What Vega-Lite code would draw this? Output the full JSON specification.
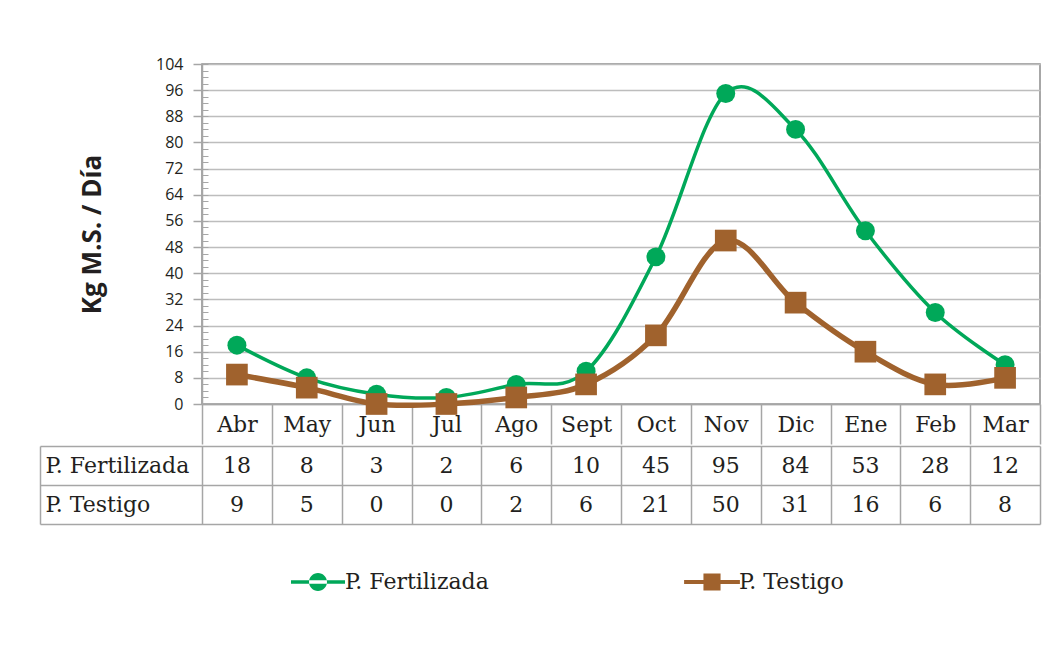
{
  "$schema": "https://vega.github.io/schema/vega-lite/v6.json",
  "padding": {"left": 39, "top": 55, "right": 10, "bottom": 10},
  "background": "white",
  "datasets": {
    "d": [
      {"month": "Abr", "series": "P. Fertilizada", "value": 18},
      {"month": "May", "series": "P. Fertilizada", "value": 8},
      {"month": "Jun", "series": "P. Fertilizada", "value": 3},
      {"month": "Jul", "series": "P. Fertilizada", "value": 2},
      {"month": "Ago", "series": "P. Fertilizada", "value": 6},
      {"month": "Sept", "series": "P. Fertilizada", "value": 10},
      {"month": "Oct", "series": "P. Fertilizada", "value": 45},
      {"month": "Nov", "series": "P. Fertilizada", "value": 95},
      {"month": "Dic", "series": "P. Fertilizada", "value": 84},
      {"month": "Ene", "series": "P. Fertilizada", "value": 53},
      {"month": "Feb", "series": "P. Fertilizada", "value": 28},
      {"month": "Mar", "series": "P. Fertilizada", "value": 12},
      {"month": "Abr", "series": "P. Testigo", "value": 9},
      {"month": "May", "series": "P. Testigo", "value": 5},
      {"month": "Jun", "series": "P. Testigo", "value": 0},
      {"month": "Jul", "series": "P. Testigo", "value": 0},
      {"month": "Ago", "series": "P. Testigo", "value": 2},
      {"month": "Sept", "series": "P. Testigo", "value": 6},
      {"month": "Oct", "series": "P. Testigo", "value": 21},
      {"month": "Nov", "series": "P. Testigo", "value": 50},
      {"month": "Dic", "series": "P. Testigo", "value": 31},
      {"month": "Ene", "series": "P. Testigo", "value": 16},
      {"month": "Feb", "series": "P. Testigo", "value": 6},
      {"month": "Mar", "series": "P. Testigo", "value": 8}
    ]
  },
  "spacing": -14,
  "vconcat": [
    {
      "width": 838,
      "height": 340,
      "view": {"stroke": "#8a8a8a", "strokeWidth": 1.5},
      "data": {"name": "d"},
      "resolve": {"axis": {"y": "independent"}},
      "layer": [
        {
          "transform": [{"filter": "datum.series === 'P. Fertilizada'"}],
          "mark": {"type": "line", "interpolate": "cardinal", "strokeWidth": 3.5,
                   "point": {"filled": true, "shape": "circle", "size": 360, "opacity": 1}},
          "encoding": {
            "x": {"field": "month", "type": "nominal",
                  "sort": ["Abr","May","Jun","Jul","Ago","Sept","Oct","Nov","Dic","Ene","Feb","Mar"],
                  "scale": {"paddingInner": 0, "paddingOuter": 0},
                  "axis": {"title": null, "orient": "bottom", "labelAngle": 0,
                           "labelFont": "DejaVu Serif", "labelFontSize": 22, "labelColor": "#231f20",
                           "labelBaseline": "middle", "labelPadding": -20,
                           "tickBand": "extent", "tickSize": 40, "tickColor": "#a6a6a6", "tickWidth": 1.5,
                           "domainColor": "#a6a6a6", "domainWidth": 1.5, "grid": false}},
            "y": {"field": "value", "type": "quantitative",
                  "scale": {"domain": [0, 104], "nice": false, "zero": true},
                  "axis": {"title": "Kg M.S. / Día", "titleFont": "Open Sans", "titleFontWeight": "bold",
                           "titleFontSize": 26, "titleColor": "#231f20", "titlePadding": 50,
                           "values": [0,8,16,24,32,40,48,56,64,72,80,88,96,104],
                           "labelFont": "Open Sans", "labelFontSize": 16, "labelColor": "#231f20",
                           "labelPadding": 10, "tickSize": 9, "tickColor": "#a6a6a6", "tickWidth": 1.5,
                           "domainColor": "#a6a6a6", "domainWidth": 1.5,
                           "grid": true, "gridColor": "#bdbdbd", "gridWidth": 1.5}},
            "color": {"field": "series", "type": "nominal",
                      "scale": {"domain": ["P. Fertilizada", "P. Testigo"], "range": ["#00a859", "#a0622d"]},
                      "legend": {
                        "title": null, "orient": "none", "legendX": 105, "legendY": 507,
                        "direction": "horizontal", "columns": 2, "columnPadding": 195,
                        "padding": 0, "symbolSize": 324, "symbolStrokeWidth": 0,
                        "labelFont": "DejaVu Serif", "labelFontSize": 22, "labelColor": "#231f20",
                        "labelOffset": 16, "labelLimit": 300,
                        "encode": {"symbols": {"update": {
                          "shape": {"signal": "datum.value === 'P. Fertilizada' ? 'M-3,-0.2H3V0.2H-3Z M-1,0A1,1 0 1,0 1,0A1,1 0 1,0 -1,0Z' : 'M-3.1,-0.22H3.1V0.22H-3.1Z M-0.95,-0.95H0.95V0.95H-0.95Z'"},
                          "fill": {"scale": "color", "field": "value"},
                          "fillOpacity": {"value": 1},
                          "strokeWidth": {"value": 0},
                          "opacity": {"value": 1}
                        }}}
                      }}
          }
        },
        {
          "transform": [{"filter": "datum.series === 'P. Testigo'"}],
          "mark": {"type": "line", "interpolate": "cardinal", "strokeWidth": 5.5,
                   "point": {"filled": true, "shape": "square", "size": 470, "opacity": 1}},
          "encoding": {
            "x": {"field": "month", "type": "nominal",
                  "sort": ["Abr","May","Jun","Jul","Ago","Sept","Oct","Nov","Dic","Ene","Feb","Mar"]},
            "y": {"field": "value", "type": "quantitative",
                  "axis": {"title": null, "orient": "left", "labels": false, "domain": false, "grid": false,
                           "values": [0,2,4,6,8,10,12,14,16,18,20,22,24,26,28,30,32,34,36,38,40,42,44,46,48,50,52,54,56,58,60,62,64,66,68,70,72,74,76,78,80,82,84,86,88,90,92,94,96,98,100,102,104],
                           "tickSize": -6, "tickColor": "#a6a6a6", "tickWidth": 1}},
            "color": {"field": "series", "type": "nominal"}
          }
        }
      ]
    },
    {
      "width": 838,
      "height": 78,
      "view": {"stroke": null},
      "data": {"name": "d"},
      "mark": {"type": "text", "font": "DejaVu Serif", "fontSize": 22, "color": "#231f20"},
      "encoding": {
        "x": {"field": "month", "type": "nominal",
              "sort": ["Abr","May","Jun","Jul","Ago","Sept","Oct","Nov","Dic","Ene","Feb","Mar"],
              "scale": {"paddingInner": 0, "paddingOuter": 0},
              "axis": {"title": null, "labels": false, "ticks": false, "domain": false,
                       "grid": true, "tickBand": "extent", "gridColor": "#a6a6a6", "gridWidth": 1.5}},
        "y": {"field": "series", "type": "nominal",
              "sort": ["P. Fertilizada", "P. Testigo"],
              "scale": {"paddingInner": 0, "paddingOuter": 0},
              "axis": {"title": null, "orient": "left", "offset": 162, "grid": false,
                       "tickBand": "extent", "tickSize": -1000, "tickColor": "#a6a6a6", "tickWidth": 1.5,
                       "domain": true, "domainColor": "#a6a6a6", "domainWidth": 1.5,
                       "labelAlign": "left", "labelBaseline": "middle", "labelPadding": 995,
                       "labelFont": "DejaVu Serif", "labelFontSize": 22, "labelColor": "#231f20"}},
        "text": {"field": "value", "type": "quantitative"}
      }
    }
  ]
}
